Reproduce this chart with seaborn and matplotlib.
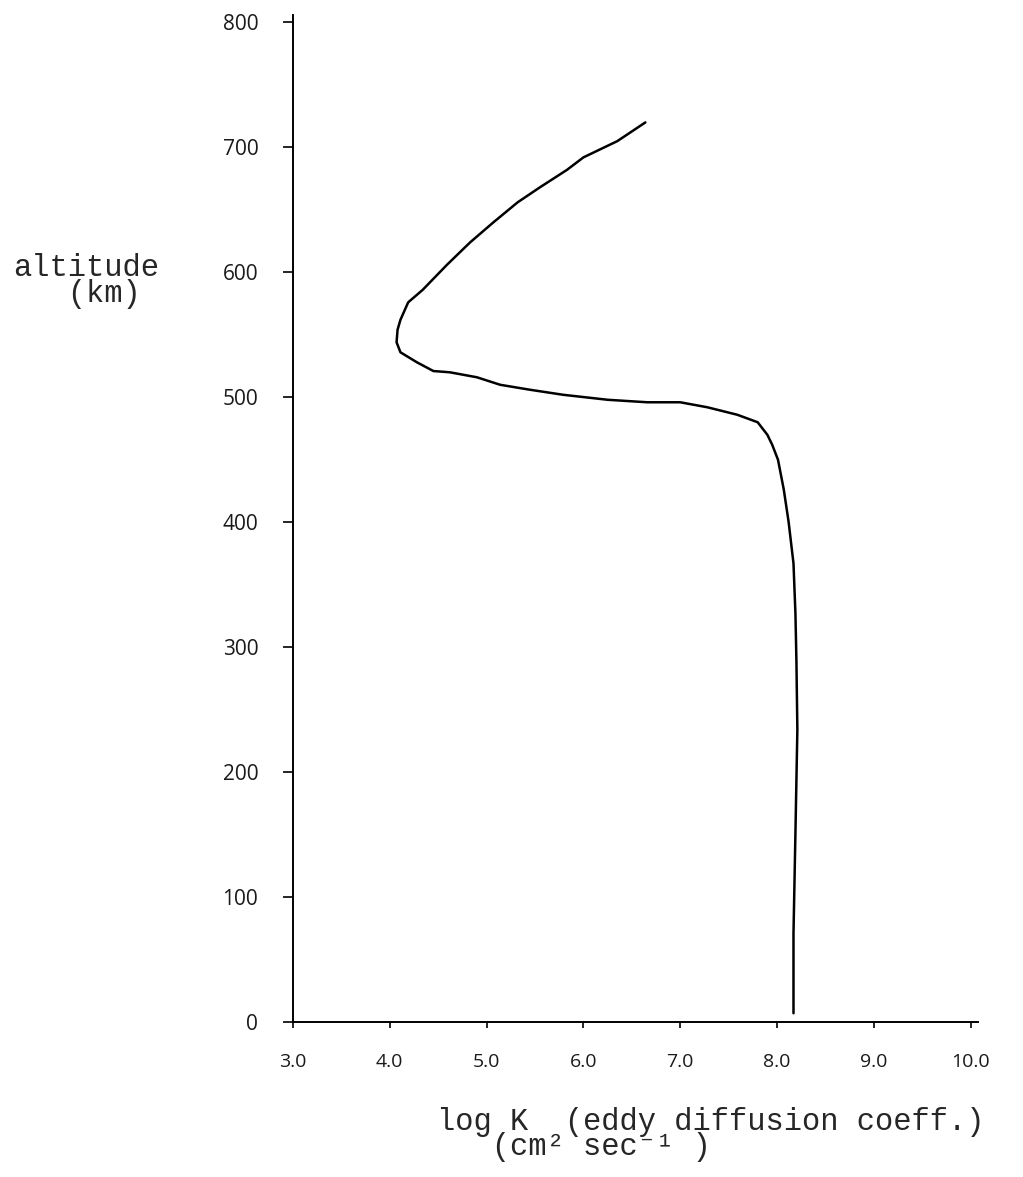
import matplotlib
matplotlib.use("Agg")
import matplotlib.pyplot as plt
import seaborn as sns
import pandas as pd

# Data (log K vs altitude)
log_k = [8.17, 8.17, 8.19, 8.21, 8.20, 8.19, 8.17, 8.12, 8.07, 8.01, 7.95, 7.90, 7.80,
         7.59, 7.28, 7.00, 6.66, 6.25, 5.79, 5.45, 5.14, 4.90, 4.62, 4.45, 4.28,
         4.11, 4.07, 4.08, 4.11, 4.19, 4.34, 4.59, 4.83, 5.07, 5.32, 5.55, 5.83, 6.00,
         6.35, 6.64]
altitude = [7, 71, 151, 234, 290, 327, 367, 400, 426, 450, 462, 470, 480,
            486, 492, 496, 496, 498, 502, 506, 510, 516, 520, 521, 528,
            536, 544, 554, 562, 576, 586, 606, 624, 640, 656, 668, 682, 692,
            705, 720]
x_ticks = [3, 4, 5, 6, 7, 8, 9, 10]
x_tick_labels = ["3.0", "4.0", "5.0", "6.0", "7.0", "8.0", "9.0", "10.0"]
y_ticks = [0, 100, 200, 300, 400, 500, 600, 700, 800]
y_tick_labels = ["0", "100", "200", "300", "400", "500", "600", "700", "800"]

sns.set_style("ticks")
plt.rcParams["font.family"] = ["Open Sans", "DejaVu Sans"]

df = pd.DataFrame({"logK": log_k, "alt": altitude})

fig = plt.figure(figsize=(10.23, 11.77), dpi=100)
ax = fig.add_axes([0.2864, 0.1317, 0.670, 0.8556])

sns.lineplot(data=df, x="logK", y="alt", sort=False, estimator=None,
             color="black", linewidth=1.8, ax=ax)

ax.set_xlim(3.0, 10.08)
ax.set_ylim(0, 806)
sns.despine(ax=ax)
for s in ["left", "bottom"]:
    ax.spines[s].set_linewidth(1.4)
    ax.spines[s].set_color("black")

ax.set_xticks(x_ticks)
ax.set_xticklabels(x_tick_labels, fontsize=14)
ax.set_yticks(y_ticks)
ax.set_yticklabels(y_tick_labels, fontsize=15)
ax.tick_params(axis="x", direction="out", length=4, width=1.2, pad=18, colors="black")
ax.tick_params(axis="y", direction="out", length=7, width=1.2, pad=18, colors="black")
for lab in ax.get_xticklabels() + ax.get_yticklabels():
    lab.set_color("#1a1a1a")

mono = ["Liberation Mono", "DejaVu Sans Mono"]
ax.set_ylabel("altitude\n   (km)", rotation=0, fontsize=22, family=mono,
              ha="center", va="center", multialignment="left", linespacing=0.85)
ax.yaxis.set_label_coords(-0.302, 0.736)

ax.set_xlabel("log K  (eddy diffusion coeff.)\n   (cm² sec⁻¹ )", fontsize=22,
              family=mono, ha="left", va="top", multialignment="left",
              linespacing=0.82)
ax.xaxis.set_label_coords(0.210, -0.084)

fig.savefig("out.png", dpi=100, facecolor="white")
